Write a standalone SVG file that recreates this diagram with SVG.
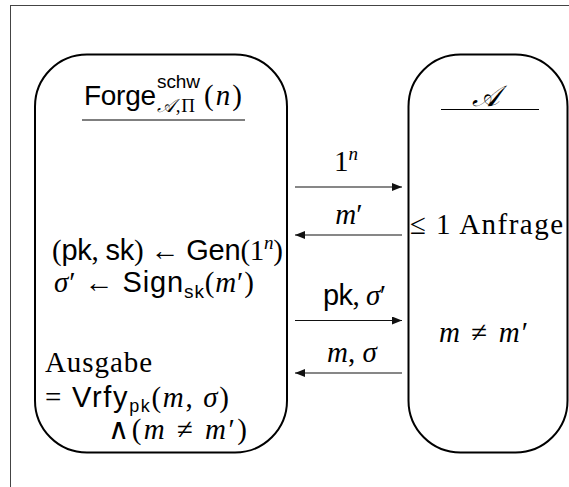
<svg xmlns="http://www.w3.org/2000/svg" width="569" height="487" viewBox="0 0 569 487">
<style>
.frame{fill:none;stroke:#444;stroke-width:1}
.box{fill:#fff;stroke:#000;stroke-width:2}
.rule{stroke:#000;stroke-width:1.2}
.arr{stroke:#111;stroke-width:1.1;fill:none}
.t{font-family:"Liberation Serif","DejaVu Serif",serif;font-size:29px;fill:#000}
.s{font-size:19px}
.sf{font-family:"Liberation Sans","DejaVu Sans",sans-serif}
.it{font-style:italic}
</style>
<defs>
<marker id="ah" viewBox="0 0 10 8" refX="10" refY="4" markerWidth="10" markerHeight="8" markerUnits="userSpaceOnUse" orient="auto">
<path d="M0,0 L10,4 L0,8 Z" fill="#111"/>
</marker>
</defs>
<rect class="frame" x="10.5" y="5.5" width="620" height="600"/>
<g id="challenger">
<rect class="box" x="35" y="54.5" width="252" height="398" rx="52" ry="52"/>
<text class="t sf" x="84" y="105" style="font-size:28px" textLength="72">Forge</text>
<text class="t sf" x="157" y="88" style="font-size:19px" textLength="43">schw</text>
<text class="t" x="157" y="112" style="font-size:19px" textLength="38"><tspan class="it">𝒜</tspan>,Π</text>
<text class="t" x="204" y="105" textLength="38">(<tspan class="it">n</tspan>)</text>
<line class="rule" x1="82" y1="120" x2="245" y2="120"/>
<text class="t" x="52" y="260" textLength="231">(<tspan class="sf">pk</tspan>, <tspan class="sf">sk</tspan>) ← <tspan class="sf">Gen</tspan>(1<tspan class="it s" dy="-11">n</tspan><tspan dy="11">)</tspan></text>
<text class="t" x="54" y="292" textLength="200"><tspan class="it">σ</tspan>′ ← <tspan class="sf">Sign</tspan><tspan class="sf s" dy="6">sk</tspan><tspan dy="-6">(</tspan><tspan class="it">m</tspan>′)</text>
<text class="t" x="45" y="372" textLength="107">Ausgabe</text>
<text class="t" x="45" y="407" textLength="184">= <tspan class="sf">Vrfy</tspan><tspan class="sf" style="font-size:18px" dy="5">pk</tspan><tspan dy="-5">(</tspan><tspan class="it">m</tspan>, <tspan class="it">σ</tspan>)</text>
<text class="t" x="108" y="439" textLength="139">∧(<tspan class="it">m</tspan> ≠ <tspan class="it">m</tspan>′)</text>
</g>
<g id="adversary">
<rect class="box" x="408.5" y="54.5" width="159" height="398" rx="52" ry="52"/>
<text class="t it" x="485.5" y="106" text-anchor="middle">𝒜</text>
<line class="rule" x1="441" y1="109.5" x2="539" y2="109.5"/>
<text class="t" x="410" y="234" textLength="153">≤ 1 Anfrage</text>
<text class="t" x="439" y="342" textLength="89"><tspan class="it">m</tspan> ≠ <tspan class="it">m</tspan>′</text>
</g>
<g id="connectors">
<line class="arr" x1="295" y1="187" x2="402" y2="187" marker-end="url(#ah)"/>
<line class="arr" x1="402" y1="235" x2="295" y2="235" marker-end="url(#ah)"/>
<line class="arr" x1="295" y1="320.5" x2="402" y2="320.5" marker-end="url(#ah)"/>
<line class="arr" x1="402" y1="373" x2="295" y2="373" marker-end="url(#ah)"/>
<text class="t" x="334" y="171">1<tspan class="it s" dy="-11">n</tspan></text>
<text class="t" x="349" y="224" text-anchor="middle"><tspan class="it">m</tspan>′</text>
<text class="t" x="323" y="305" textLength="63"><tspan class="sf">pk</tspan>, <tspan class="it">σ</tspan>′</text>
<text class="t" x="352" y="362" text-anchor="middle"><tspan class="it">m</tspan>, <tspan class="it">σ</tspan></text>
</g>
</svg>
